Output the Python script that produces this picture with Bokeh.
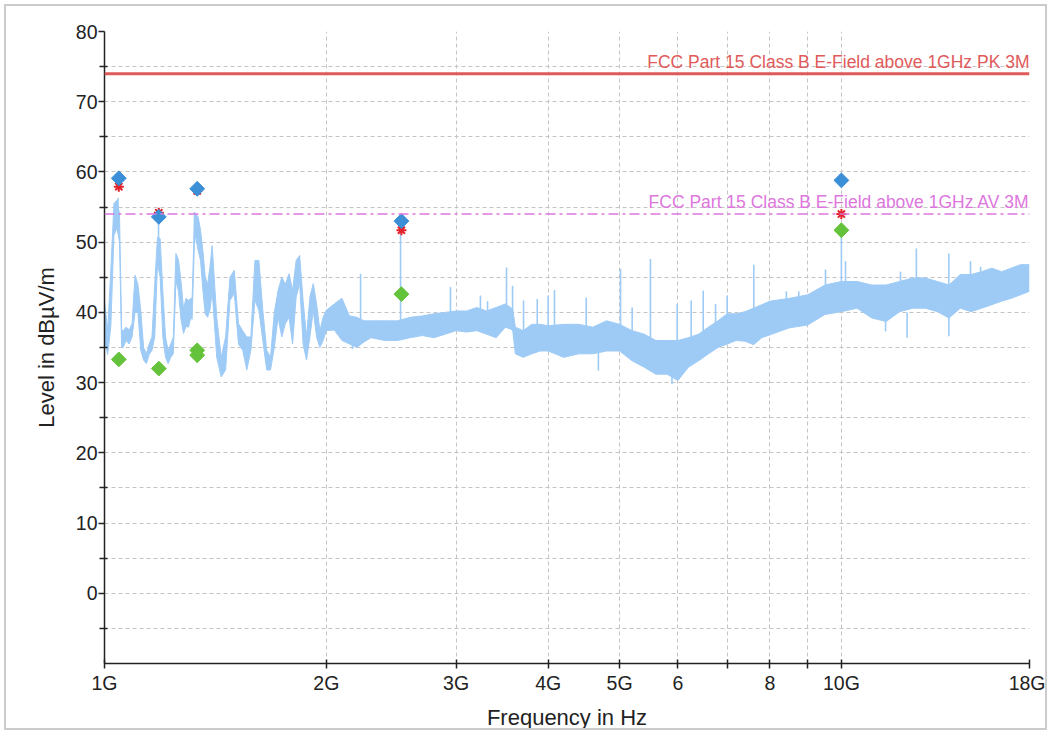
from bokeh.plotting import figure
from bokeh.models import FixedTicker, Span, Label
from bokeh.embed import file_html
from bokeh.resources import INLINE

# ---------------- data ----------------
f_min, f_max = 1.0, 18.0          # GHz
y_min, y_max = -10, 80
limit_pk = 74.0
limit_av = 54.0
limit_pk_label = "FCC Part 15 Class B E-Field above 1GHz PK 3M"
limit_av_label = "FCC Part 15 Class B E-Field above 1GHz AV 3M"

# spectrum trace: frequency (GHz) with upper / lower envelope (dBµV/m)
freq_ghz = [1.00, 1.01, 1.02, 1.03, 1.04, 1.048, 1.055, 1.06, 1.07, 1.08, 1.09,
            1.10, 1.11, 1.12, 1.13, 1.14, 1.15, 1.16, 1.17, 1.18, 1.19, 1.20,
            1.21, 1.22, 1.23, 1.24, 1.25, 1.26, 1.27, 1.28, 1.29, 1.30, 1.31,
            1.315, 1.325, 1.33, 1.34, 1.35, 1.36, 1.37, 1.38, 1.39, 1.40, 1.42,
            1.44, 1.46, 1.48, 1.50, 1.52, 1.54, 1.56, 1.58, 1.60, 1.62, 1.64,
            1.66, 1.68, 1.70, 1.72, 1.74, 1.76, 1.78, 1.80, 1.82, 1.84, 1.86,
            1.88, 1.90, 1.92, 1.94, 1.96, 1.98, 2.00, 2.05, 2.10, 2.15, 2.20,
            2.25, 2.30, 2.40, 2.50, 2.60, 2.70, 2.80, 2.90, 3.00, 3.10, 3.20,
            3.30, 3.40, 3.50, 3.58, 3.61, 3.70, 3.80, 3.90, 4.00, 4.2, 4.4,
            4.6, 4.8, 5.0, 5.2, 5.4, 5.6, 5.8, 6.0, 6.2, 6.4, 6.6, 6.8, 7.0,
            7.2, 7.4, 7.6, 7.8, 8.0, 8.5, 9.0, 9.5, 10.0, 10.5, 11.0, 11.5,
            12.0, 12.5, 13.0, 13.5, 14.0, 14.5, 15.0, 15.5, 16.0, 16.5, 17.0,
            17.5, 18.0]
level_hi = [41.5, 37.5, 46.0, 55.5, 56.0, 54.0, 37.5, 37.4, 37.9, 37.5, 38.4,
            45.3, 44.0, 40.3, 35.0, 34.1, 35.5, 36.5, 44.0, 50.7, 50.5, 43.0,
            36.5, 34.6, 35.5, 36.5, 48.4, 47.5, 44.5, 40.5, 42.0, 41.7, 42.0,
            42.0, 54.0, 54.0, 53.6, 51.7, 48.8, 45.0, 44.0, 46.4, 49.5, 39.3,
            33.6, 36.5, 45.0, 46.0, 38.4, 37.4, 36.5, 36.5, 47.4, 47.4, 40.3,
            34.6, 33.6, 40.0, 43.1, 45.0, 44.0, 45.5, 43.1, 47.4, 48.1, 41.7,
            36.5, 42.2, 44.1, 41.2, 37.4, 39.3, 40.3, 41.2, 42.0, 39.5, 39.3,
            38.8, 38.8, 38.8, 38.8, 39.3, 39.5, 39.8, 40.0, 40.2, 40.2, 40.7,
            40.2, 40.7, 41.2, 40.5, 37.9, 37.4, 38.3, 38.3, 38.1, 38.3, 38.3,
            37.9, 38.8, 38.3, 37.4, 36.9, 36.0, 36.0, 36.0, 36.4, 36.9, 37.9,
            38.8, 39.8, 39.8, 40.1, 40.6, 41.1, 41.6, 42.0, 42.5, 43.9, 44.4,
            44.4, 43.9, 43.9, 44.4, 44.9, 44.9, 44.4, 43.9, 45.4, 45.4, 45.8,
            46.3, 45.8, 46.3, 46.8, 46.8]
level_lo = [36.0, 34.0, 38.0, 51.0, 52.0, 50.0, 35.0, 35.0, 36.0, 35.5, 36.5,
            40.0, 40.0, 34.6, 33.2, 32.7, 34.0, 34.6, 36.5, 47.0, 45.0, 36.5,
            33.6, 32.7, 33.6, 34.1, 44.5, 43.0, 39.0, 37.0, 38.0, 37.9, 39.3,
            39.0, 50.5, 50.7, 48.8, 47.4, 43.1, 39.8, 39.3, 40.3, 43.0, 33.6,
            30.8, 31.8, 41.7, 42.7, 35.5, 34.6, 31.8, 34.6, 41.7, 40.3, 36.0,
            31.8, 31.8, 35.0, 39.3, 36.5, 38.4, 39.3, 35.5, 42.2, 44.1, 35.5,
            33.2, 36.5, 40.3, 36.5, 35.0, 36.0, 37.4, 37.5, 36.0, 35.5, 35.0,
            35.8, 36.4, 36.0, 36.0, 36.4, 36.7, 36.4, 36.9, 37.4, 37.2, 37.4,
            36.9, 36.4, 37.9, 37.5, 34.1, 33.6, 34.1, 34.5, 34.5, 33.6, 34.1,
            34.1, 34.5, 34.5, 33.1, 32.2, 31.2, 31.2, 30.3, 32.2, 33.1, 34.1,
            35.0, 35.5, 36.0, 35.9, 35.4, 36.4, 36.8, 37.8, 38.2, 39.7, 40.1,
            40.6, 39.2, 38.7, 40.1, 40.6, 40.6, 40.1, 39.2, 40.6, 40.1, 40.6,
            41.1, 41.6, 42.0, 42.5, 43.0]

# narrow spikes / dips of the trace
spike_f = [1.043, 1.184, 1.325, 2.17, 2.226, 2.522, 2.948, 3.237, 3.31, 3.512,
           3.579, 3.704, 3.866, 4.0, 4.08, 4.505, 4.68, 5.015, 5.201, 5.507,
           5.89, 5.986, 6.255, 6.494, 6.749, 6.998, 7.605, 8.42, 8.753, 9.515,
           10.0, 10.13, 11.48, 12.03, 12.28, 12.64, 13.99, 13.99, 14.97, 15.45]
spike_lo = [52.0, 48.0, 50.0, 34.8, 37.0, 36.5, 38.0, 38.0, 37.5, 39.0,
            39.0, 36.0, 36.0, 36.0, 35.5, 36.0, 31.7, 36.0, 35.0, 34.0,
            29.8, 33.0, 34.0, 35.0, 36.0, 37.0, 37.0, 38.0, 39.0, 41.0,
            41.0, 41.0, 37.3, 41.0, 36.4, 42.0, 41.0, 36.6, 42.0, 42.0]
spike_hi = [56.3, 54.2, 54.3, 37.0, 45.5, 51.5, 43.6, 42.4, 41.6, 46.4,
            43.8, 41.7, 41.9, 42.4, 43.2, 42.1, 35.0, 46.2, 40.7, 47.6,
            33.0, 41.2, 41.7, 43.1, 41.2, 42.4, 46.8, 43.0, 43.0, 46.1,
            51.5, 47.3, 40.0, 45.8, 40.0, 49.1, 48.4, 40.0, 47.3, 46.5]

# final measurement markers
peak_f = [1.0457, 1.185, 1.336, 2.529, 10.0]
peak_db = [59.1, 53.6, 57.6, 53.0, 58.8]
qp_f = [1.0457, 1.185, 1.336, 2.529, 10.0]
qp_db = [57.9, 54.2, 57.3, 51.7, 54.0]
avg_f = [1.0457, 1.185, 1.336, 1.336, 2.529, 10.0]
avg_db = [33.3, 32.0, 34.6, 33.9, 42.6, 51.7]

x_tick_vals = [1, 2, 3, 4, 5, 6, 7, 8, 9, 10, 18]
x_tick_text = ["1G", "2G", "3G", "4G", "5G", "6", "", "8", "", "10G", "18G"]
y_major = [0, 10, 20, 30, 40, 50, 60, 70, 80]
y_minor = [-5, 5, 15, 25, 35, 45, 55, 65, 75]

# ---------------- styling ----------------
FONT = "Liberation Sans"
trace_color = "#9ecbf6"
grid_color = "#c4c4c4"

p = figure(width=1043, height=726, x_axis_type="log",
           x_range=(f_min, f_max), y_range=(y_min, y_max),
           output_backend="svg", toolbar_location=None,
           min_border_left=98, min_border_right=20,
           min_border_top=25, min_border_bottom=69,
           styles={"border": "2px solid #cbcbcb", "margin": "4px 4px 2px 4px"})
p.outline_line_color = None
p.background_fill_color = "white"
p.border_fill_color = "white"

# grids
p.xgrid.ticker = FixedTicker(ticks=x_tick_vals)
p.ygrid.ticker = FixedTicker(ticks=y_minor + y_major)
for g in (p.xgrid, p.ygrid):
    g.grid_line_color = grid_color
    g.grid_line_dash = "4 3"
    g.grid_line_width = 1

# axes
p.xaxis.ticker = FixedTicker(ticks=x_tick_vals)
p.xaxis.major_label_overrides = {float(v): t for v, t in zip(x_tick_vals, x_tick_text)}
p.yaxis.ticker = FixedTicker(ticks=y_major, minor_ticks=y_minor)
p.xaxis.axis_label = "Frequency in Hz"
p.yaxis.axis_label = "Level in dBµV/m"
for ax in (p.xaxis, p.yaxis):
    ax.axis_line_color = "#222222"
    ax.axis_line_width = 1.5
    ax.major_tick_line_color = "#222222"
    ax.minor_tick_line_color = "#222222"
    ax.major_tick_line_width = 1.5
    ax.minor_tick_line_width = 1.5
    ax.major_label_text_font = FONT
    ax.major_label_text_font_size = "19.5px"
    ax.major_label_text_color = "#222222"
    ax.axis_label_text_font = FONT
    ax.axis_label_text_font_size = "22px"
    ax.axis_label_text_font_style = "normal"
    ax.axis_label_text_color = "#222222"
p.yaxis.major_tick_out = 6
p.yaxis.major_tick_in = 0
p.yaxis.minor_tick_out = 5
p.yaxis.minor_tick_in = 3
p.yaxis.major_label_standoff = 1
p.yaxis.axis_label_standoff = 14
p.xaxis.major_tick_out = 5
p.xaxis.major_tick_in = 4
p.xaxis.minor_tick_out = 0
p.xaxis.minor_tick_in = 0
p.xaxis.major_label_standoff = 3
p.xaxis.axis_label_standoff = 8

# trace
p.varea(x=freq_ghz, y1=level_lo, y2=level_hi, fill_color=trace_color, fill_alpha=1.0)
p.line(x=freq_ghz, y=level_hi, line_color=trace_color, line_width=1)
p.line(x=freq_ghz, y=level_lo, line_color=trace_color, line_width=1)
p.segment(x0=spike_f, y0=spike_lo, x1=spike_f, y1=spike_hi,
          line_color=trace_color, line_width=1.6)

# limit lines
p.add_layout(Span(location=limit_pk, dimension="width", line_color="#df5b5b", line_width=3))
p.add_layout(Span(location=limit_av, dimension="width", line_color="#dd77dd",
                  line_width=1.5, line_dash="10 4 3 4"))
p.add_layout(Label(x=f_max, y=limit_pk, text=limit_pk_label, text_align="right",
                   text_baseline="bottom", y_offset=2, text_font=FONT,
                   text_font_size="17.5px", text_color="#df5b5b"))
p.add_layout(Label(x=f_max, y=limit_av, text=limit_av_label, text_align="right",
                   text_baseline="bottom", y_offset=2, text_font=FONT,
                   text_font_size="17.5px", text_color="#dd77dd"))

# markers
p.scatter(x=qp_f, y=qp_db, marker="asterisk", size=10, line_color="#e3222a", line_width=2)
p.scatter(x=peak_f, y=peak_db, marker="square", angle=0.7854, size=10.5,
          fill_color="#3b8fd7", line_color="#3b8fd7")
p.scatter(x=avg_f, y=avg_db, marker="square", angle=0.7854, size=10.5,
          fill_color="#65c33b", line_color="#65c33b")

open("out.html", "w").write(file_html(p, INLINE))
